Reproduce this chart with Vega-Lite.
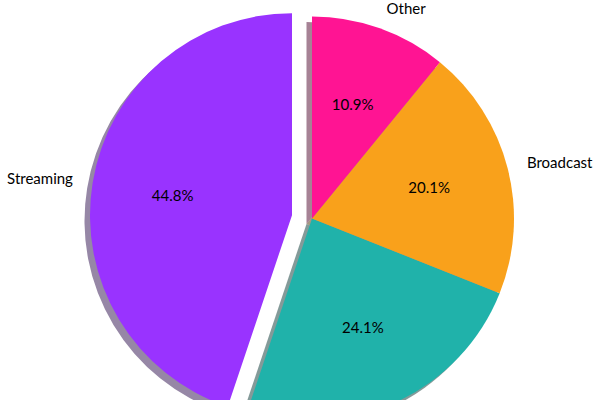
{
  "$schema": "https://vega.github.io/schema/vega-lite/v6.json",
  "width": 600,
  "height": 400,
  "autosize": "none",
  "padding": 0,
  "background": "white",
  "config": {"view": {"stroke": null}},
  "data": {
    "values": [
      {"category": "Streaming", "share": 0.448},
      {"category": "Cable", "share": 0.241},
      {"category": "Broadcast", "share": 0.201},
      {"category": "Other", "share": 0.109}
    ]
  },
  "encoding": {
    "theta": {"field": "share", "type": "quantitative", "stack": true},
    "order": {"field": "share", "type": "quantitative", "sort": "ascending"}
  },
  "layer": [
    {
      "mark": {"type": "arc", "radius": 202, "xOffset": 6.5, "yOffset": 24, "fillOpacity": 0.5},
      "encoding": {
        "fill": {"field": "category", "type": "nominal", "legend": null,
          "scale": {"domain": ["Streaming", "Cable", "Broadcast", "Other"], "range": ["#2e0f4d", "#0a3533", "#4b3008", "#4d062c"]}},
        "opacity": {"condition": {"test": "datum.category === 'Streaming'", "value": 0}, "value": 1}
      }
    },
    {
      "mark": {"type": "arc", "radius": 202, "xOffset": -13.5, "yOffset": 20.7, "fillOpacity": 0.5},
      "encoding": {
        "fill": {"field": "category", "type": "nominal", "legend": null},
        "opacity": {"condition": {"test": "datum.category === 'Streaming'", "value": 1}, "value": 0}
      }
    },
    {
      "mark": {"type": "arc", "radius": 202, "xOffset": 12, "yOffset": 18.5},
      "encoding": {
        "color": {"field": "category", "type": "nominal", "legend": null,
          "scale": {"domain": ["Streaming", "Cable", "Broadcast", "Other"], "range": ["#9933FF", "#20B2AA", "#F9A11B", "#FF1493"]}},
        "opacity": {"condition": {"test": "datum.category === 'Streaming'", "value": 0}, "value": 1}
      }
    },
    {
      "mark": {"type": "arc", "radius": 202, "xOffset": -8, "yOffset": 15.2},
      "encoding": {
        "color": {"field": "category", "type": "nominal", "legend": null},
        "opacity": {"condition": {"test": "datum.category === 'Streaming'", "value": 1}, "value": 0}
      }
    },
    {
      "mark": {"type": "text", "radius": 121, "xOffset": 12, "yOffset": 18.5, "font": "Lato", "fontSize": 15, "color": "black", "align": "center", "baseline": "middle"},
      "encoding": {
        "text": {"field": "share", "type": "quantitative", "format": ".1%"},
        "opacity": {"condition": {"test": "datum.category === 'Streaming'", "value": 0}, "value": 1}
      }
    },
    {
      "mark": {"type": "text", "radius": 121, "xOffset": -8, "yOffset": 15.2, "font": "Lato", "fontSize": 15, "color": "black", "align": "center", "baseline": "middle"},
      "encoding": {
        "text": {"field": "share", "type": "quantitative", "format": ".1%"},
        "opacity": {"condition": {"test": "datum.category === 'Streaming'", "value": 1}, "value": 0}
      }
    },
    {
      "mark": {"type": "text", "radius": 222, "xOffset": 12, "yOffset": 18.5, "font": "Lato", "fontSize": 15, "color": "black", "align": "left", "baseline": "middle"},
      "encoding": {
        "text": {"field": "category", "type": "nominal"},
        "opacity": {"condition": {"test": "datum.category === 'Broadcast' || datum.category === 'Other'", "value": 1}, "value": 0}
      }
    },
    {
      "mark": {"type": "text", "radius": 222, "xOffset": -8, "yOffset": 15.2, "font": "Lato", "fontSize": 15, "color": "black", "align": "right", "baseline": "middle"},
      "encoding": {
        "text": {"field": "category", "type": "nominal"},
        "opacity": {"condition": {"test": "datum.category === 'Streaming'", "value": 1}, "value": 0}
      }
    }
  ]
}
